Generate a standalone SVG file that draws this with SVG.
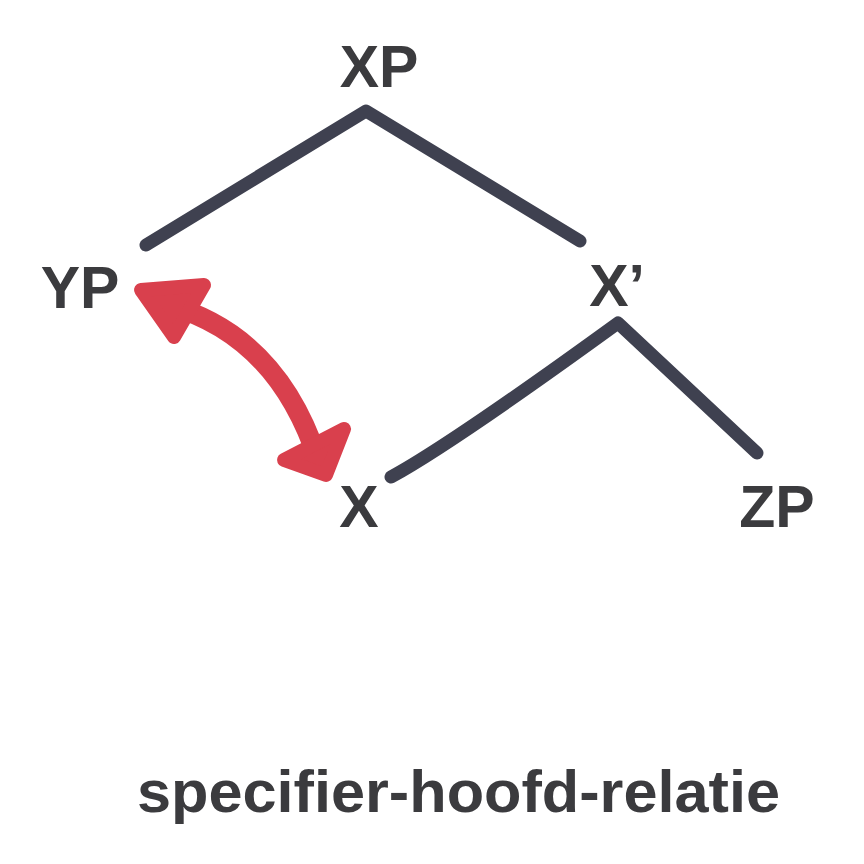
<svg xmlns="http://www.w3.org/2000/svg" width="864" height="864" viewBox="0 0 864 864">
<style>
.lbl{font-family:"Liberation Sans",Arial,sans-serif;font-weight:bold;font-size:59px;fill:#3b3b3e}
.edge{fill:none;stroke:#3f4150;stroke-width:13;stroke-linecap:round;stroke-linejoin:round}
.rel{fill:none;stroke:#d9404d;stroke-width:20;stroke-linecap:round;stroke-linejoin:round}
.head{fill:#d9404d;stroke:#d9404d;stroke-width:14;stroke-linejoin:round}
</style>
<rect width="864" height="864" fill="#ffffff"/>
<g id="connectors">
<path class="edge" d="M146,245 L366,111 L580,241"/>
<path class="edge" d="M391,477 Q450,445 618,323 L757,453"/>
<path class="rel" d="M168,305 Q277,335 318,460"/>
<polygon class="head" points="141,290 204,285 174,337"/>
<polygon class="head" points="326,475 284,460 344,429"/>
</g>
<g id="node-XP"><text class="lbl" x="379" y="87" text-anchor="middle">XP</text></g>
<g id="node-YP"><text class="lbl" x="80" y="308" text-anchor="middle">YP</text></g>
<g id="node-Xbar"><text class="lbl" x="617" y="306" text-anchor="middle">X’</text></g>
<g id="node-X"><text class="lbl" x="359" y="527" text-anchor="middle">X</text></g>
<g id="node-ZP"><text class="lbl" x="777" y="527" text-anchor="middle">ZP</text></g>
<g id="caption"><text class="lbl" x="137" y="812" font-size="60" textLength="643" lengthAdjust="spacingAndGlyphs">specifier-hoofd-relatie</text></g>
</svg>
